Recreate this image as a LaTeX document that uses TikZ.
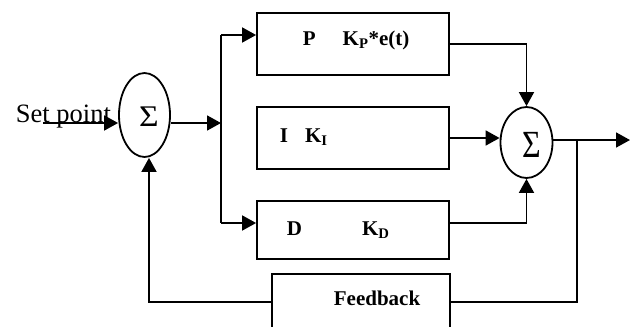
\documentclass[tikz,border=0pt]{standalone}
\usepackage{fontspec}
\setmainfont{Liberation Serif}
\usetikzlibrary{arrows.meta,shapes.geometric}
\begin{document}
\begin{tikzpicture}[x=1pt,y=-1pt,
  line width=1.8pt,
  >={Triangle[length=14pt,width=15pt]},
  blockbox/.style={draw,rectangle,inner sep=0pt},
  sumnode/.style={draw,ellipse,inner sep=0pt},
  sigmatext/.style={inner sep=0pt,font=\fontsize{30}{32}\selectfont},
  lbl/.style={anchor=base west,inner sep=0pt,font=\fontsize{21}{23}\selectfont\bfseries}]
\useasboundingbox (0,0) rectangle (633,327);
\clip (0,0) rectangle (633,327);
% summing junctions
\node[sumnode,minimum width=51pt,minimum height=84pt] (sum1) at (144.5,115) {};
\node[sigmatext,xscale=1.12] (sig1) at (149,117) {Σ};
\node[sumnode,minimum width=52pt,minimum height=71pt] (sum2) at (526.5,142.5) {};
\node[sigmatext,font=\fontsize{32}{34}\selectfont,yscale=1.2] (sig2) at (532,144.5) {Σ};
% blocks
\node[blockbox,minimum width=192pt,minimum height=62pt] (pbox) at (353,44) {};
\node[blockbox,minimum width=192pt,minimum height=62pt] (ibox) at (353,138) {};
\node[blockbox,minimum width=192pt,minimum height=58pt] (dbox) at (353,230) {};
\node[blockbox,minimum width=178pt,minimum height=80pt] (fb) at (361,314) {};
% labels
\node[anchor=base west,inner sep=0pt,font=\fontsize{26.5}{28}\selectfont] (sptext) at (15,122) {Set point};
\node[lbl] (plbl) at (302,45) {P\hspace{27pt}K\textsubscript{P}*e(t)};
\node[lbl] (ilbl) at (279,142) {I\hspace{17pt}K\textsubscript{I}};
\node[lbl] (dlbl) at (286,235) {D\hspace{60pt}K\textsubscript{D}};
\node[lbl] (fblbl) at (333,305) {Feedback};
% coordinates
\coordinate (spstart) at (43,123);
\coordinate (br) at (221,123);
\coordinate (pa) at (221,35);
\coordinate (da) at (221,223);
\coordinate (dout) at (449,223);
\coordinate (out) at (630,140);
\coordinate (fbsplit) at (577,140);
\coordinate (fbr) at (577,302);
\coordinate (fbl) at (149,302);
% connectors
\draw[->] (spstart) -- (spstart -| sum1.west);
\draw[->] (br -| sum1.east) -- (br);
\draw (pa) -- (da);
\draw[->] (pa) -- (pa -| pbox.west);
\draw[->] (da) -- (da -| dbox.west);
\draw[->] (pbox.east) -| (sum2.north);
\draw[->] (ibox.east) -- (ibox.east -| sum2.west);
\draw[->] (dout) -| (sum2.south);
\draw[->] (out -| sum2.east) -- (out);
\draw (fbsplit) -- (fbr) -- (fbr -| fb.east);
\draw[->] (fbl -| fb.west) -- (fbl) -- (fbl |- sum1.south);
\end{tikzpicture}
\end{document}
